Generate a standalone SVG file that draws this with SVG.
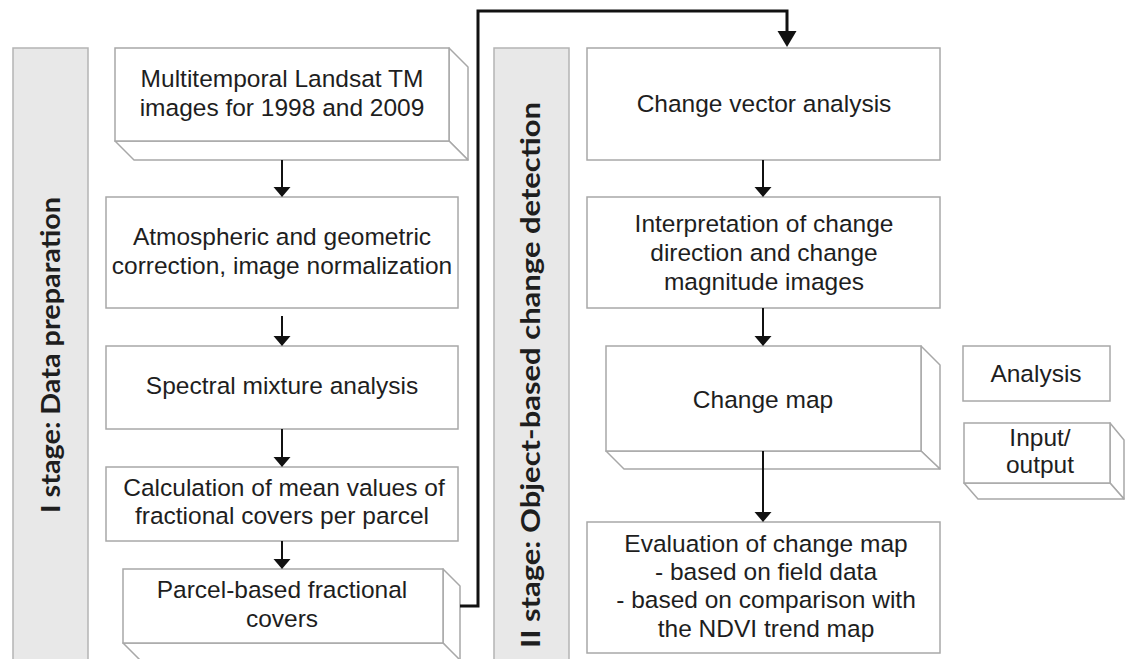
<svg xmlns="http://www.w3.org/2000/svg" width="1125" height="659" viewBox="0 0 1125 659">
<defs>
<style>
.band{fill:#e8e8e8;stroke:#b4b4b4;stroke-width:1.5}
.box{fill:#ffffff;stroke:#a8a8a8;stroke-width:1.5}
.face{fill:#ffffff;stroke:#a8a8a8;stroke-width:1.5;stroke-linejoin:round}
.t{font-family:"Liberation Sans",Arial,sans-serif;font-size:24.5px;fill:#1e1e1e;text-anchor:middle}
.bl{font-family:Lato,"Open Sans",sans-serif;font-weight:bold;font-size:27px;fill:#1e1e1e}
.c{fill:none;stroke:#111;stroke-width:2}
.cb{fill:none;stroke:#111;stroke-width:3}
</style>
<marker id="ah" markerUnits="userSpaceOnUse" viewBox="0 -9 10 18" refX="3" refY="0" markerWidth="10" markerHeight="18" orient="auto">
<path d="M0,-8.5 L10,0 L0,8.5 z" fill="#111"/>
</marker>
<marker id="ahb" markerUnits="userSpaceOnUse" viewBox="0 -10 16 20" refX="4" refY="0" markerWidth="16" markerHeight="20" orient="auto">
<path d="M0,-9.5 L16,0 L0,9.5 z" fill="#111"/>
</marker>
</defs>
<rect width="1125" height="659" fill="#ffffff"/>

<g id="band1">
<rect class="band" x="13" y="48" width="75" height="620"/>
<text class="bl" transform="translate(60,513) rotate(-90)" textLength="316" lengthAdjust="spacingAndGlyphs">I stage: Data preparation</text>
</g>
<g id="band2">
<rect class="band" x="494" y="48" width="75" height="620"/>
<text class="bl" transform="translate(540,648) rotate(-90)" textLength="546" lengthAdjust="spacingAndGlyphs">II stage: Object-based change detection</text>
</g>

<g id="n1">
<polygon class="face" points="449,48 468,67 468,160 449,141"/>
<polygon class="face" points="115,141 449,141 468,160 134,160"/>
<rect class="box" x="115" y="48" width="334" height="93"/>
<text class="t" x="282" y="87">Multitemporal Landsat TM</text>
<text class="t" x="282" y="116">images for 1998 and 2009</text>
</g>
<g id="n2">
<rect class="box" x="106" y="197" width="352" height="111"/>
<text class="t" x="282" y="245">Atmospheric and geometric</text>
<text class="t" x="282" y="274">correction, image normalization</text>
</g>
<g id="n3">
<rect class="box" x="106" y="346" width="352" height="83"/>
<text class="t" x="282" y="394">Spectral mixture analysis</text>
</g>
<g id="n4">
<rect class="box" x="106" y="467" width="352" height="74"/>
<text class="t" x="284" y="496">Calculation of mean values of</text>
<text class="t" x="282" y="524">fractional covers per parcel</text>
</g>
<g id="n5">
<polygon class="face" points="443,569 460,586 460,662 443,643"/>
<polygon class="face" points="123,643 443,643 462,662 142,662"/>
<rect class="box" x="123" y="569" width="320" height="74"/>
<text class="t" x="282" y="598">Parcel-based fractional</text>
<text class="t" x="282" y="627">covers</text>
</g>

<g id="n6">
<rect class="box" x="587" y="48" width="353" height="112"/>
<text class="t" x="764" y="112">Change vector analysis</text>
</g>
<g id="n7">
<rect class="box" x="587" y="197" width="353" height="111"/>
<text class="t" x="764" y="232">Interpretation of change</text>
<text class="t" x="764" y="261">direction and change</text>
<text class="t" x="764" y="290">magnitude images</text>
</g>
<g id="n8">
<polygon class="face" points="921,346 940,365 940,469 921,451"/>
<polygon class="face" points="606,451 921,451 940,469 624,469"/>
<rect class="box" x="606" y="346" width="315" height="105"/>
<text class="t" x="763" y="408">Change map</text>
</g>
<g id="n9">
<rect class="box" x="587" y="522" width="353" height="131"/>
<text class="t" x="766" y="552">Evaluation of change map</text>
<text class="t" x="766" y="580">- based on field data</text>
<text class="t" x="766" y="608">- based on comparison with</text>
<text class="t" x="766" y="637">the NDVI trend map</text>
</g>

<g id="legend-analysis">
<rect class="box" x="963" y="346" width="147" height="55"/>
<text class="t" x="1036" y="382">Analysis</text>
</g>
<g id="legend-io">
<polygon class="face" points="1110,423 1124,440 1124,499 1110,483"/>
<polygon class="face" points="964,483 1110,483 1124,499 978,499"/>
<rect class="box" x="964" y="423" width="146" height="60"/>
<text class="t" x="1040" y="446">Input/</text>
<text class="t" x="1040" y="473">output</text>
</g>

<g id="connectors">
<line class="c" x1="282" y1="160" x2="282" y2="190" marker-end="url(#ah)"/>
<line class="c" x1="282" y1="316" x2="282" y2="339" marker-end="url(#ah)"/>
<line class="c" x1="282" y1="429" x2="282" y2="460" marker-end="url(#ah)"/>
<line class="c" x1="282" y1="541" x2="282" y2="562" marker-end="url(#ah)"/>
<path class="cb" d="M460,606 H478 V11 H787 V35" marker-end="url(#ahb)"/>
<line class="c" x1="763" y1="160" x2="763" y2="190" marker-end="url(#ah)"/>
<line class="c" x1="763" y1="308" x2="763" y2="339" marker-end="url(#ah)"/>
<line class="c" x1="763" y1="451" x2="763" y2="515" marker-end="url(#ah)"/>
</g>
</svg>
